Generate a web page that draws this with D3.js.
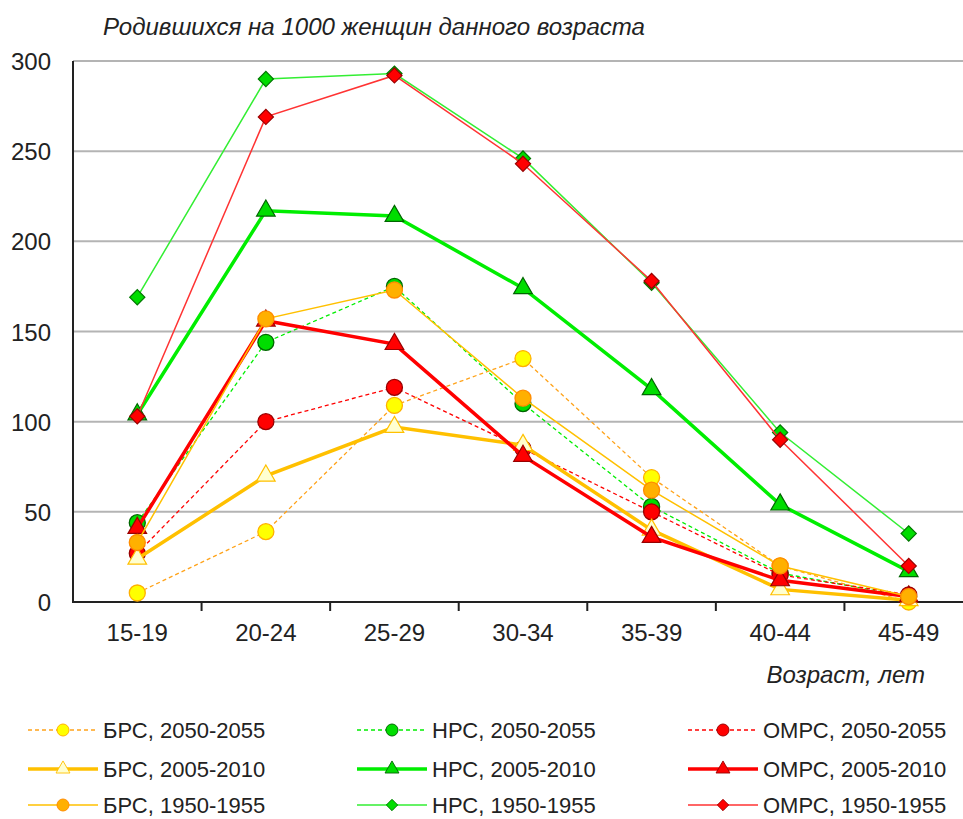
<!DOCTYPE html>
<html>
<head>
<meta charset="utf-8">
<script src="https://cdn.jsdelivr.net/npm/d3@7"></script>
<style>
  body { margin: 0; background: #fff; }
  svg { display: block; font-family: "Liberation Sans", Arial, sans-serif; }
</style>
</head>
<body>
<script>
const width = 963;
const height = 819;

// age groups
const ages = ['15-19', '20-24', '25-29', '30-34', '35-39', '40-44', '45-49'];
const yTicks = [0, 50, 100, 150, 200, 250, 300];

// births per 1000 women
const brs2050 = [5, 39, 109, 135, 69, 20, 0];
const nrs2050 = [44, 144, 175, 110, 53, 16, 3];
const omrs2050 = [27, 100, 119, 85, 50, 15, 4];
const brs2005 = [24, 70, 97, 87, 40, 7, 1];
const nrs2005 = [104, 217, 214, 174, 118, 54, 17];
const omrs2005 = [41, 156, 143, 81, 36, 12, 3];
const brs1950 = [33, 157, 173, 113, 62, 20, 3];
const nrs1950 = [169, 290, 293, 246, 177, 94, 38];
const omrs1950 = [103, 269, 292, 243, 178, 90, 20];

const seriesNames = ['БРС, 2050-2055', 'НРС, 2050-2055', 'ОМРС, 2050-2055',
                     'БРС, 2005-2010', 'НРС, 2005-2010', 'ОМРС, 2005-2010',
                     'БРС, 1950-1955', 'НРС, 1950-1955', 'ОМРС, 1950-1955'];
const seriesValues = [brs2050, nrs2050, omrs2050, brs2005, nrs2005, omrs2005, brs1950, nrs1950, omrs1950];

// look of each series (same order)
const styles = [
    { line: '#ffa31a', w: 1.3, dash: '4,3', shape: 'circle', fill: '#ffff00', stroke: '#ffb000', size: 8 },
    { line: '#00ee00', w: 1.3, dash: '4,3', shape: 'circle', fill: '#00dd00', stroke: '#006600', size: 8 },
    { line: '#ff0000', w: 1.3, dash: '4,3', shape: 'circle', fill: '#ff0000', stroke: '#990000', size: 8 },
    { line: '#ffc000', w: 3.5, dash: null, shape: 'triangle', fill: '#ffffd0', stroke: '#ffc000', size: 7 },
    { line: '#00ee00', w: 3.5, dash: null, shape: 'triangle', fill: '#00dd00', stroke: '#006600', size: 7 },
    { line: '#ff0000', w: 3.5, dash: null, shape: 'triangle', fill: '#ff0000', stroke: '#990000', size: 7 },
    { line: '#ffc000', w: 1.5, dash: null, shape: 'circle', fill: '#ffb000', stroke: '#ff8c00', size: 8 },
    { line: '#33ee33', w: 1.5, dash: null, shape: 'diamond', fill: '#00dd00', stroke: '#007700', size: 7 },
    { line: '#ff3333', w: 1.5, dash: null, shape: 'diamond', fill: '#ff0000', stroke: '#990000', size: 7 }
];

const margin = { left: 73, top: 61, bottom: 602, right: 973 };

const svg = d3.select('body').append('svg').attr('width', width).attr('height', height);

const x = d3.scaleBand().domain(ages).range([margin.left, margin.right]);
const y = d3.scaleLinear().domain([0, 300]).range([margin.bottom, margin.top]);
const cx = a => x(a) + x.bandwidth() / 2;

// gridlines
svg.append('g').selectAll('line')
    .data(yTicks.filter(d => d > 0))
    .enter().append('line')
    .attr('x1', margin.left).attr('x2', width)
    .attr('y1', d => y(d)).attr('y2', d => y(d))
    .attr('stroke', '#b4b4b4').attr('stroke-width', 2);

// y labels
svg.append('g').selectAll('text')
    .data(yTicks)
    .enter().append('text')
    .attr('x', 51).attr('y', d => y(d) + 9)
    .attr('text-anchor', 'end')
    .attr('font-size', 24).attr('fill', '#222')
    .text(d => d);

// axes lines
svg.append('line').attr('x1', margin.left).attr('x2', margin.left)
    .attr('y1', margin.top).attr('y2', margin.bottom)
    .attr('stroke', '#222').attr('stroke-width', 2);
svg.append('line').attr('x1', margin.left - 1).attr('x2', width)
    .attr('y1', margin.bottom).attr('y2', margin.bottom)
    .attr('stroke', '#222').attr('stroke-width', 2);
svg.append('g').selectAll('line')
    .data(ages.slice(1))
    .enter().append('line')
    .attr('x1', d => x(d)).attr('x2', d => x(d))
    .attr('y1', margin.bottom).attr('y2', margin.bottom + 9)
    .attr('stroke', '#222').attr('stroke-width', 2);

// x labels
svg.append('g').selectAll('text')
    .data(ages)
    .enter().append('text')
    .attr('x', d => cx(d)).attr('y', 641)
    .attr('text-anchor', 'middle')
    .attr('font-size', 24).attr('fill', '#222')
    .text(d => d);

// titles
svg.append('text').attr('x', 103).attr('y', 35)
    .attr('font-size', 23).attr('font-style', 'italic').attr('fill', '#222')
    .attr('textLength', 542).attr('lengthAdjust', 'spacingAndGlyphs')
    .text('Родившихся на 1000 женщин данного возраста');
svg.append('text').attr('x', 925).attr('y', 683)
    .attr('text-anchor', 'end')
    .attr('font-size', 24).attr('font-style', 'italic').attr('fill', '#222')
    .text('Возраст, лет');

function marker(sel, st) {
    if (st.shape === 'circle') {
        sel.append('circle').attr('r', st.size)
            .attr('fill', st.fill).attr('stroke', st.stroke).attr('stroke-width', 1.3);
    } else if (st.shape === 'triangle') {
        sel.append('path').attr('d', d3.symbol().type(d3.symbolTriangle).size(150)())
            .attr('fill', st.fill).attr('stroke', st.stroke).attr('stroke-width', 1.2);
    } else {
        sel.append('path').attr('d', d3.symbol().type(d3.symbolSquare).size(115)())
            .attr('transform', 'rotate(45)')
            .attr('fill', st.fill).attr('stroke', st.stroke).attr('stroke-width', 1.2);
    }
}

const line = d3.line().x((d, i) => cx(ages[i])).y(d => y(d));

const plot = svg.append('g');
seriesValues.forEach((vals, k) => {
    const st = styles[k];
    const g = plot.append('g');
    g.append('path').datum(vals)
        .attr('d', line)
        .attr('fill', 'none')
        .attr('stroke', st.line)
        .attr('stroke-width', st.w)
        .attr('stroke-dasharray', st.dash);
    g.selectAll('g.pt')
        .data(vals)
        .enter().append('g').attr('class', 'pt')
        .attr('transform', (d, i) => `translate(${cx(ages[i])},${y(d)})`)
        .each(function() { marker(d3.select(this), st); });
});

// legend, three columns, row-wise
const legX = [28, 357, 688];
const legY = [730, 769, 805];
const legend = svg.append('g');
seriesNames.forEach((name, k) => {
    const st = styles[k];
    const lx = legX[k % 3];
    const ly = legY[Math.floor(k / 3)];
    const g = legend.append('g').attr('transform', `translate(${lx},${ly})`);
    g.append('line').attr('x1', 0).attr('x2', 70).attr('y1', 0).attr('y2', 0)
        .attr('stroke', st.line).attr('stroke-width', st.w)
        .attr('stroke-dasharray', st.dash);
    const m = g.append('g').attr('transform', 'translate(35,0) scale(0.75)');
    marker(m, st);
    g.append('text').attr('x', 75).attr('y', 8)
        .attr('font-size', 22).attr('fill', '#222')
        .text(name);
});
</script>
</body>
</html>
